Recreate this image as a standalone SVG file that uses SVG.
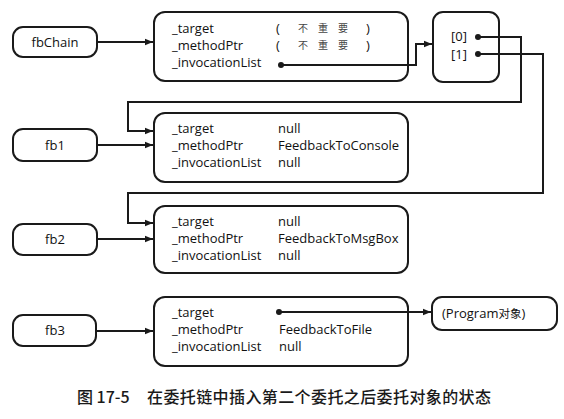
<svg xmlns="http://www.w3.org/2000/svg" width="564" height="419" viewBox="0 0 564 419">
<style>
.box{fill:#fff;stroke:#1a1a1a;stroke-width:2}
.t{font-family:"Open Sans","Noto Sans","Noto Sans CJK SC",sans-serif;font-size:13px;fill:#111}
.c{text-anchor:middle}
.cj{font-family:"Noto Sans CJK SC",sans-serif;font-size:10px;fill:#444}
.cap{font-family:"Noto Sans CJK SC",sans-serif;font-size:16px;font-weight:500;fill:#1a1a1a}
.ln{fill:none;stroke:#1a1a1a;stroke-width:2}
</style>
<defs>
<marker id="ah" viewBox="0 0 8 8" refX="8" refY="4" markerWidth="8" markerHeight="8" markerUnits="userSpaceOnUse" orient="auto">
<path d="M0,0.8 L8,4 L0,7.2 Z" fill="#1a1a1a"/>
</marker>
<marker id="dot" viewBox="0 0 6 6" refX="3" refY="3" markerWidth="6" markerHeight="6" markerUnits="userSpaceOnUse">
<circle cx="3" cy="3" r="3" fill="#1a1a1a"/>
</marker>
</defs>
<rect width="564" height="419" fill="#fff"/>

<g id="fbChain">
<rect class="box" x="13" y="27" width="84" height="30" rx="10"/>
<text class="t c" x="55" y="47">fbChain</text>
</g>
<g id="delegateChain">
<rect class="box" x="154" y="12" width="254" height="69" rx="11"/>
<text class="t" x="172" y="33">_target</text>
<text class="t" x="172" y="50">_methodPtr</text>
<text class="t" x="172" y="67">_invocationList</text>
<text class="t" x="276" y="33">(</text>
<text class="t" x="366" y="33">)</text>
<text class="t" x="276" y="50">(</text>
<text class="t" x="366" y="50">)</text>
<text class="cj" x="298 318 338" y="32">不重要</text>
<text class="cj" x="298 318 338" y="49">不重要</text>
</g>
<g id="array">
<rect class="box" x="433" y="12" width="66" height="70" rx="10"/>
<text class="t" x="451" y="41" font-size="12.5">[0]</text>
<text class="t" x="451" y="59" font-size="12.5">[1]</text>
</g>
<g id="fb1">
<rect class="box" x="13" y="129" width="84" height="32" rx="10"/>
<text class="t c" x="55" y="150">fb1</text>
</g>
<g id="delegate1">
<rect class="box" x="154" y="113" width="254" height="69" rx="11"/>
<text class="t" x="172" y="133">_target</text>
<text class="t" x="172" y="150">_methodPtr</text>
<text class="t" x="172" y="167">_invocationList</text>
<text class="t" x="278" y="133">null</text>
<text class="t" x="278" y="150">FeedbackToConsole</text>
<text class="t" x="278" y="167">null</text>
</g>
<g id="fb2">
<rect class="box" x="13" y="224" width="84" height="31" rx="10"/>
<text class="t c" x="55" y="244">fb2</text>
</g>
<g id="delegate2">
<rect class="box" x="154" y="206" width="254" height="67" rx="11"/>
<text class="t" x="172" y="226">_target</text>
<text class="t" x="172" y="243">_methodPtr</text>
<text class="t" x="172" y="260">_invocationList</text>
<text class="t" x="278" y="226">null</text>
<text class="t" x="278" y="243">FeedbackToMsgBox</text>
<text class="t" x="278" y="260">null</text>
</g>
<g id="fb3">
<rect class="box" x="13" y="315" width="83" height="31" rx="10"/>
<text class="t c" x="55" y="335">fb3</text>
</g>
<g id="delegate3">
<rect class="box" x="154" y="297" width="254" height="69" rx="11"/>
<text class="t" x="172" y="317">_target</text>
<text class="t" x="172" y="334">_methodPtr</text>
<text class="t" x="172" y="351">_invocationList</text>
<text class="t" x="279" y="334">FeedbackToFile</text>
<text class="t" x="279" y="351">null</text>
</g>
<g id="program">
<rect class="box" x="432" y="297" width="125" height="33" rx="10"/>
<text class="t" x="442" y="318">(Program<tspan font-family="'Noto Sans CJK SC',sans-serif" font-size="11.5">对象</tspan>)</text>
</g>

<g id="connectors">
<path class="ln" d="M97,42 H153" marker-end="url(#ah)"/>
<path class="ln" d="M97,145 H153" marker-end="url(#ah)"/>
<path class="ln" d="M97,239 H153" marker-end="url(#ah)"/>
<path class="ln" d="M96,331 H153" marker-end="url(#ah)"/>
<path class="ln" d="M281,65 H416 V44 H432" marker-start="url(#dot)" marker-end="url(#ah)"/>
<path class="ln" d="M478,37 H521 V102 H128 V131 H153" marker-start="url(#dot)" marker-end="url(#ah)"/>
<path class="ln" d="M478,54 H543 V193 H128 V223 H153" marker-start="url(#dot)" marker-end="url(#ah)"/>
<path class="ln" d="M279,312 H431" marker-start="url(#dot)" marker-end="url(#ah)"/>
</g>

<g id="caption">
<text class="cap" x="77" y="403">图 17-5</text>
<text class="cap" x="147" y="403" textLength="344" lengthAdjust="spacing">在委托链中插入第二个委托之后委托对象的状态</text>
</g>
</svg>
